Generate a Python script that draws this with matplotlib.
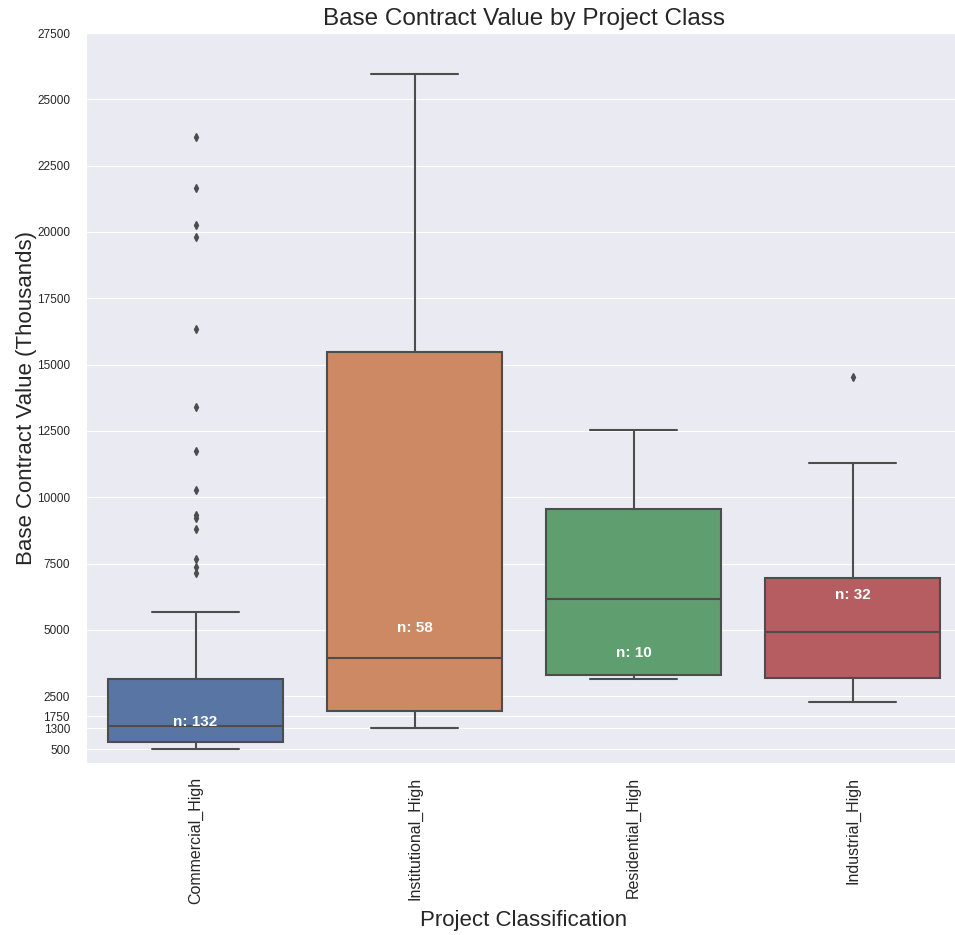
import matplotlib
matplotlib.use("Agg")
import matplotlib.pyplot as plt
import seaborn as sns

# box statistics per project class (thousands)
categories = ["Commercial_High", "Institutional_High", "Residential_High", "Industrial_High"]
counts = [132, 58, 10, 32]
whisker_low = [501, 1304, 3129, 2262]
q1 = [754, 1934, 3280, 3167]
medians = [1380, 3958, 6145, 4912]
q3 = [3129, 15457, 9538, 6937]
whisker_high = [5678, 25949, 12527, 11302]
commercial_outliers = [23562, 21662, 20256, 19804, 16347, 13383, 11747,
                       10266, 9323, 9210, 8795, 7653, 7374, 7125]
institutional_outliers = []
residential_outliers = []
industrial_outliers = [14515]

yticks = [500, 1300, 1750, 2500, 5000, 7500, 10000, 12500, 15000,
          17500, 20000, 22500, 25000, 27500]

sns.set_style("darkgrid")
plt.rcParams['font.family'] = ['Liberation Sans', 'DejaVu Sans']

fig = plt.figure(figsize=(9.55, 9.35), dpi=100)
ax = fig.add_axes([86 / 955, (935 - 762.5) / 935, 876 / 955, (762.5 - 33) / 935])

outliers = [commercial_outliers, institutional_outliers, residential_outliers, industrial_outliers]
stats = []
for i in range(len(categories)):
    stats.append({
        "label": categories[i],
        "whislo": whisker_low[i],
        "q1": q1[i],
        "med": medians[i],
        "q3": q3[i],
        "whishi": whisker_high[i],
        "fliers": outliers[i],
    })

line_col = "#4d4d4d"
palette = sns.color_palette("deep", 4)
bp = ax.bxp(stats, positions=range(len(categories)), widths=0.8, capwidths=0.4,
            patch_artist=True, showfliers=True,
            boxprops=dict(edgecolor=line_col, linewidth=1.5),
            medianprops=dict(color=line_col, linewidth=1.5),
            whiskerprops=dict(color=line_col, linewidth=1.5),
            capprops=dict(color=line_col, linewidth=1.5),
            flierprops=dict(marker="d", markerfacecolor=line_col, markeredgecolor=line_col,
                            markersize=4, linestyle="none"))
for patch, col in zip(bp["boxes"], palette):
    patch.set_facecolor(sns.desaturate(col, 0.75))

# n labels, medians taken in groupby (alphabetical) order
sorted_medians = [medians[categories.index(c)] for c in sorted(categories)]
vertical_offset = max(medians) * 0.025
for pos in range(len(categories)):
    ax.text(pos, sorted_medians[pos] + vertical_offset, f"n: {counts[pos]}",
            ha="center", va="center", size=11, color="w", weight="semibold")

ax.set_xlim(-0.5, 3.5)
ax.set_ylim(0, 27500)
ax.set_yticks(yticks)
ax.set_yticklabels([str(t) for t in yticks], fontsize=8.5)
ax.tick_params(axis="y", pad=8)
ax.set_xticks(range(len(categories)))
ax.set_xticklabels(categories, rotation=90, fontsize=11.5)
ax.tick_params(axis="x", pad=7)
ax.grid(False, axis="x")

ax.set_title("Base Contract Value by Project Class", fontsize=17.5)
ax.set_xlabel("Project Classification", fontsize=16)
ax.set_ylabel("Base Contract Value (Thousands)", fontsize=16, labelpad=0)

fig.savefig("out.png", dpi=100)
